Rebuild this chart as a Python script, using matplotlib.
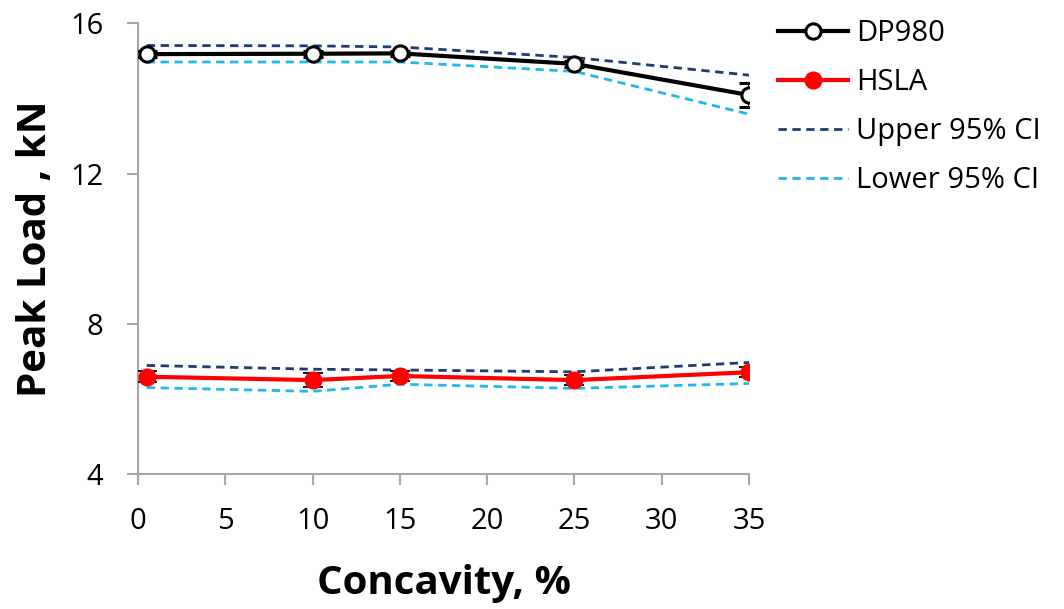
import matplotlib.pyplot as plt

# data
concavity = [0.5, 10, 15, 25, 35]

dp980 = [15.18, 15.19, 15.20, 14.92, 14.09]
dp980_err = [0.08, 0.08, 0.07, 0.07, 0.32]
dp980_upper = [15.41, 15.40, 15.37, 15.09, 14.62]
dp980_lower = [14.97, 14.97, 14.97, 14.72, 13.58]

hsla = [6.59, 6.50, 6.61, 6.50, 6.71]
hsla_err = [0.15, 0.18, 0.13, 0.13, 0.13]
hsla_upper = [6.89, 6.79, 6.77, 6.72, 6.97]
hsla_lower = [6.30, 6.20, 6.39, 6.28, 6.41]

x_ticks = [0, 5, 10, 15, 20, 25, 30, 35]
y_ticks = [4, 8, 12, 16]

upper_color = '#1f3b73'
lower_color = '#1fb8f0'

plt.rcParams['font.family'] = ['Open Sans', 'DejaVu Sans']

fig = plt.figure(figsize=(10.64, 6.09), dpi=100)
ax = fig.add_axes([0.1297, 0.2217, 0.5743, 0.7400])

# confidence bands first so the data lines sit on top
up1, = ax.plot(concavity, dp980_upper, ls=(0, (3, 2)), lw=2, color=upper_color, zorder=2)
lo1, = ax.plot(concavity, dp980_lower, ls=(0, (3, 2)), lw=2, color=lower_color, zorder=2)
ax.plot(concavity, hsla_upper, ls=(0, (3, 2)), lw=2, color=upper_color, zorder=2)
ax.plot(concavity, hsla_lower, ls=(0, (3, 2)), lw=2, color=lower_color, zorder=2)

dp = ax.errorbar(concavity, dp980, yerr=dp980_err, color='black', lw=3, marker='o', ms=11,
                 mfc='white', mec='black', mew=2.2, ecolor='black', elinewidth=1.3,
                 capsize=7, capthick=1.3, zorder=4)
hs = ax.errorbar(concavity, hsla, yerr=hsla_err, color='red', lw=3, marker='o', ms=12,
                 mfc='red', mec='red', ecolor='black', elinewidth=1.3,
                 capsize=7, capthick=1.3, zorder=4)

ax.set_xlim(0, 35)
ax.set_ylim(4, 16)
ax.set_xticks(x_ticks)
ax.set_yticks(y_ticks)
ax.tick_params(axis='both', direction='out', length=8, width=1.5, color='#a6a6a6',
               labelsize=21)
ax.tick_params(axis='x', pad=16)
ax.tick_params(axis='y', pad=17)
for side in ['top', 'right']:
    ax.spines[side].set_visible(False)
for side in ['left', 'bottom']:
    ax.spines[side].set_color('#a6a6a6')
    ax.spines[side].set_linewidth(1.5)

ax.set_xlabel('Concavity, %', fontsize=29, fontweight='bold', labelpad=20)
ax.set_ylabel('Peak Load , kN', fontsize=29, fontweight='bold', labelpad=11)

ax.legend([dp[0], hs[0], up1, lo1], ['DP980', 'HSLA', 'Upper 95% CI', 'Lower 95% CI'],
          loc='upper left', bbox_to_anchor=(1.004, 1.068), frameon=False,
          fontsize=21, handlelength=2.4, handletextpad=0.28, labelspacing=0.69)

fig.savefig('out.png', dpi=100)
